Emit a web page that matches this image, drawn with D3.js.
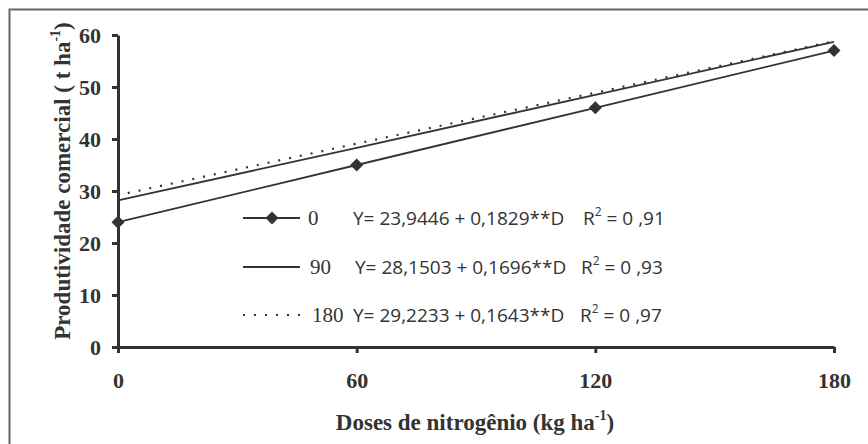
<!DOCTYPE html>
<html>
<head>
<meta charset="utf-8">
<script src="https://cdn.jsdelivr.net/npm/d3@7"></script>
<style>
  body { margin: 0; background: #fff; }
</style>
</head>
<body>
<div id="chart"></div>
<script>
// doses of nitrogen (x) and the three series
const doses = [0, 60, 120, 180];
const yTicks = [0, 10, 20, 30, 40, 50, 60];
const serie0 = [24.0, 35.0, 46.0, 57.0];     // observed, with diamonds
const serie90 = [28.2, 38.3, 48.5, 58.7];    // fitted line
const serie180 = [29.2, 39.1, 48.9, 58.8];   // fitted line, dotted
const legendNames = ["0", "90", "180"];
const legendEq = ["Y= 23,9446 + 0,1829**D", "Y= 28,1503 + 0,1696**D", "Y= 29,2233 + 0,1643**D"];
const legendR2 = ["0 ,91", "0 ,93", "0 ,97"];

const W = 868, H = 444;
const ink = "#333";
const serif = "'Liberation Serif', 'Times New Roman', serif";

const svg = d3.select("#chart")
  .append("svg")
    .attr("width", W)
    .attr("height", H);

// outer frame (only top and left are visible)
svg.append("path")
  .attr("d", "M9.5,444 L9.5,9.5 L868,9.5")
  .attr("fill", "none")
  .attr("stroke", "#666")
  .attr("stroke-width", 2);

const x = d3.scaleLinear()
  .domain([0, 180])
  .range([118, 834]);

const y = d3.scaleLinear()
  .domain([0, 60])
  .range([347, 35]);

// X axis
const gx = svg.append("g")
  .attr("transform", `translate(0, ${y(0)})`)
  .call(d3.axisBottom(x).tickValues(doses).tickSize(6).tickSizeOuter(0).tickPadding(19));
// Y axis
const gy = svg.append("g")
  .attr("transform", `translate(${x(0)}, 0)`)
  .call(d3.axisLeft(y).tickValues(yTicks).tickSize(6).tickSizeOuter(0).tickPadding(11));

[gx, gy].forEach(g => {
  g.select(".domain").attr("stroke", ink).attr("stroke-width", 3);
  g.selectAll(".tick line").attr("stroke", ink).attr("stroke-width", 3);
  g.selectAll(".tick text")
    .attr("fill", ink)
    .style("font-family", serif)
    .style("font-weight", "bold")
    .style("font-size", "22px");
});

// lines
const line = d3.line()
  .x((d, i) => x(doses[i]))
  .y(d => y(d));

svg.append("path")
  .datum(serie180)
  .attr("fill", "none")
  .attr("stroke", ink)
  .attr("stroke-width", 2.2)
  .attr("stroke-dasharray", "2,9")
  .attr("stroke-dashoffset", -10)
  .attr("d", line);

svg.append("path")
  .datum(serie90)
  .attr("fill", "none")
  .attr("stroke", ink)
  .attr("stroke-width", 1.8)
  .attr("d", line);

svg.append("path")
  .datum(serie0)
  .attr("fill", "none")
  .attr("stroke", ink)
  .attr("stroke-width", 1.8)
  .attr("d", line);

const diamond = d3.symbol().type(d3.symbolSquare).size(85);
svg.selectAll(".pt")
  .data(serie0)
  .enter()
  .append("path")
    .attr("class", "pt")
    .attr("d", diamond)
    .attr("fill", ink)
    .attr("transform", (d, i) => `translate(${x(doses[i])},${y(d)}) rotate(45)`);

// legend
const legRows = [218, 267, 315];
const leg = svg.append("g");
legRows.forEach((ly, i) => {
  const l = leg.append("line")
    .attr("x1", 243).attr("x2", 300)
    .attr("y1", ly).attr("y2", ly)
    .attr("stroke", ink)
    .attr("stroke-width", 1.8);
  if (i === 2) l.attr("stroke-dasharray", "2,9").attr("stroke-width", 2.2);
  if (i === 0) {
    leg.append("path")
      .attr("d", diamond)
      .attr("fill", ink)
      .attr("transform", `translate(272,${ly}) rotate(45)`);
  }
  leg.append("text")
    .attr("x", [308, 310, 312][i])
    .attr("y", ly + 7)
    .attr("fill", ink)
    .style("font-family", serif)
    .style("font-size", "21px")
    .text(legendNames[i]);
  leg.append("text")
    .attr("x", [353, 355, 353][i])
    .attr("y", ly + 7)
    .attr("fill", ink)
    .style("font-family", "'Open Sans', sans-serif")
    .style("font-size", "19px")
    .text(legendEq[i]);
  const r = leg.append("text")
    .attr("x", [583, 581, 580][i])
    .attr("y", ly + 7)
    .attr("fill", ink)
    .style("font-family", "'Open Sans', sans-serif")
    .style("font-size", "19px");
  r.append("tspan").text("R");
  r.append("tspan").attr("dy", -9).style("font-size", "12px").text("2");
  r.append("tspan").attr("dy", 9).text(" = " + legendR2[i]);
});

// axis titles
const xt = svg.append("text")
  .attr("x", 475)
  .attr("y", 430)
  .attr("text-anchor", "middle")
  .attr("fill", ink)
  .style("font-family", serif)
  .style("font-weight", "bold")
  .style("font-size", "23px");
xt.append("tspan").text("Doses de nitrogênio (kg ha");
xt.append("tspan").attr("dy", -10).style("font-size", "14px").text("-1");
xt.append("tspan").attr("dy", 10).text(")");

const yt = svg.append("text")
  .attr("transform", "translate(70,181) rotate(-90)")
  .attr("text-anchor", "middle")
  .attr("fill", ink)
  .style("font-family", serif)
  .style("font-weight", "bold")
  .style("font-size", "23px");
yt.append("tspan").text("Produtividade comercial ( t ha");
yt.append("tspan").attr("dy", -10).style("font-size", "14px").text("-1");
yt.append("tspan").attr("dy", 10).text(")");
</script>
</body>
</html>
